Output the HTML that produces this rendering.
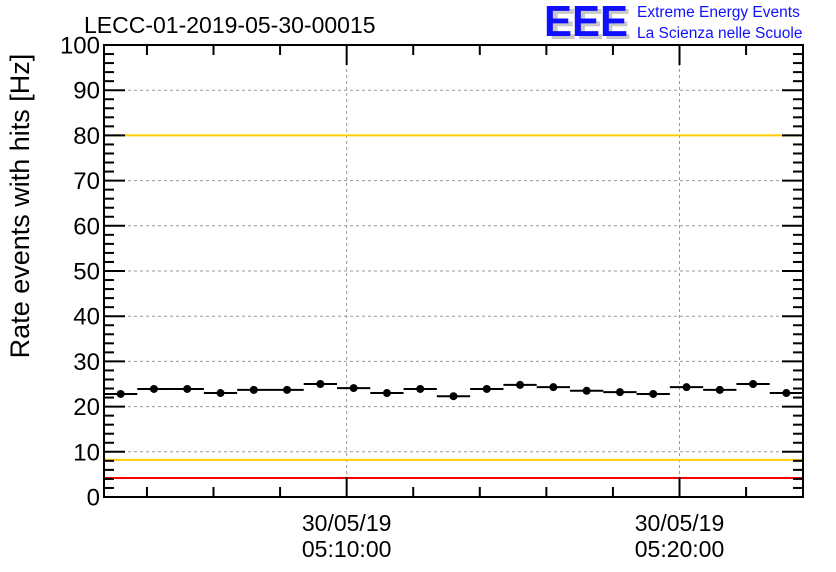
<!DOCTYPE html>
<html><head><meta charset="utf-8"><style>
html,body{margin:0;padding:0;background:#fff;}
svg{display:block;font-family:"Liberation Sans",sans-serif;}
</style></head><body>
<svg id="chart" width="836" height="572" viewBox="0 0 836 572">
<rect width="836" height="572" fill="#fff"/>
<text x="84" y="33" font-size="23" fill="#000">LECC-01-2019-05-30-00015</text>
<g>
<text x="549" y="39" font-size="44" font-weight="bold" fill="#c8c8c8" textLength="82" lengthAdjust="spacingAndGlyphs">EEE</text>
<text x="544" y="36" font-size="44" font-weight="bold" fill="#1010ff" textLength="84" lengthAdjust="spacingAndGlyphs">EEE</text>
<text x="637" y="17" font-size="15.5" fill="#1010ff">Extreme Energy Events</text>
<text x="637" y="38" font-size="15.5" fill="#1010ff">La Scienza nelle Scuole</text>
</g>
<g id="grid"></g>
<g id="lines"></g>
<g id="axes"></g>
<g id="marks"></g>
<text transform="translate(29,206) rotate(-90)" text-anchor="middle" font-size="27">Rate events with hits [Hz]</text>
</svg>
<script>
const rates = [22.8,23.9,23.9,23.0,23.7,23.7,25.0,24.1,23.0,23.9,22.3,23.9,24.8,24.3,23.5,23.2,22.8,24.3,23.7,25.0,23.0];
const yTicks = [0,10,20,30,40,50,60,70,80,90,100];
const xTickDates = ["30/05/19","30/05/19"];
const xTickTimes = ["05:10:00","05:20:00"];
const xTickMinutes = [10,20];
const redLevels = [100,4.2];
const orangeLevels = [80,8.2];
const binMinutes = 1;
const startMinute = 2.71;
const totalMinutes = 21;

const X0=104,X1=803,Y0=497,Y1=45;
const ns="http://www.w3.org/2000/svg";
const sx=m=>X0+(m-startMinute)/totalMinutes*(X1-X0);
const sy=v=>Y0-v/100*(Y0-Y1);
function mk(tag,attrs,parent){const e=document.createElementNS(ns,tag);for(const k in attrs)e.setAttribute(k,attrs[k]);parent.appendChild(e);return e;}
const grid=document.getElementById('grid'),axes=document.getElementById('axes'),lines=document.getElementById('lines'),marks=document.getElementById('marks');

yTicks.forEach(v=>{
  if(v>0&&v<100){const l=mk('line',{x1:X0,x2:X1,y1:sy(v),y2:sy(v),stroke:'#999','stroke-dasharray':'3,3'},grid);
  
  }
  const t=mk('text',{x:X0-4,y:sy(v)+8.5,'text-anchor':'end','font-size':'24'},axes);t.textContent=v;
  
  
  mk('line',{x1:X0,x2:X0+21,y1:sy(v),y2:sy(v),stroke:'#000','stroke-width':2},axes);
  mk('line',{x1:X1,x2:X1-21,y1:sy(v),y2:sy(v),stroke:'#000','stroke-width':2},axes);
});
for(let v=2;v<100;v+=2){if(v%10===0)continue;
  mk('line',{x1:X0,x2:X0+10,y1:sy(v),y2:sy(v),stroke:'#000','stroke-width':2},axes);
  mk('line',{x1:X1,x2:X1-10,y1:sy(v),y2:sy(v),stroke:'#000','stroke-width':2},axes);}
for(let m=4;m<startMinute+totalMinutes;m+=2){const x=sx(m);if(x<X0+2||x>X1-2)continue;
  const major=m%10===0;const len=major?20:10;
  mk('line',{x1:x,x2:x,y1:Y0,y2:Y0-len,stroke:'#000','stroke-width':2},axes);
  mk('line',{x1:x,x2:x,y1:Y1,y2:Y1+len,stroke:'#000','stroke-width':2},axes);}
xTickMinutes.forEach((m,i)=>{const x=sx(m);
  const g=mk('line',{x1:x,x2:x,y1:Y1,y2:Y0,stroke:'#999','stroke-dasharray':'3,3'},grid);
  
  
  const t1=mk('text',{x:x,y:531,'text-anchor':'middle','font-size':'23'},axes);t1.textContent=xTickDates[i];
  
  
  const t2=mk('text',{x:x,y:557,'text-anchor':'middle','font-size':'23'},axes);t2.textContent=xTickTimes[i];
  
  
});
orangeLevels.forEach(v=>{const l=mk('line',{x1:X0,x2:X1,y1:sy(v),y2:sy(v),stroke:'#ffcc00','stroke-width':2},lines);
  
  });
mk('rect',{x:X0,y:Y1,width:X1-X0,height:Y0-Y1,fill:'none',stroke:'#000','stroke-width':2},axes);
redLevels.forEach(v=>{const l=mk('line',{x1:X0,x2:X1,y1:sy(v),y2:sy(v),stroke:'#ff0000','stroke-width':2},lines);
  
  });
rates.forEach((v,i)=>{const a=startMinute+i*binMinutes,b=a+binMinutes;
  const l=mk('line',{x1:sx(a),x2:sx(b),y1:sy(v),y2:sy(v),stroke:'#000','stroke-width':2},marks);
  
  
  const c=mk('circle',{cx:sx(a+binMinutes/2),cy:sy(v),r:4,fill:'#000'},marks);
  
  
});
</script>
</body></html>
